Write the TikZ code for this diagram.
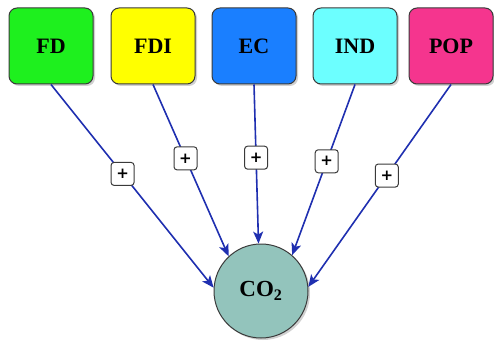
\documentclass[tikz,border=0pt]{standalone}
\usepackage{fontspec}
\setmainfont{Liberation Serif}
\newfontfamily\plusfont{DejaVu Sans}
\usetikzlibrary{shadows,arrows.meta}
\definecolor{cfd}{HTML}{1EF01E}
\definecolor{cfdi}{HTML}{FFFF00}
\definecolor{cec}{HTML}{1A7FFF}
\definecolor{cind}{HTML}{6CFFFF}
\definecolor{cpop}{HTML}{F5358E}
\definecolor{cco}{HTML}{93C4BC}
\definecolor{cline}{HTML}{1F2FB0}
\definecolor{cborder}{HTML}{3A3A3A}
\tikzset{
  varbox/.style={draw=cborder, line width=1pt, rounded corners=8pt, minimum width=84pt, minimum height=76pt,
    inner sep=0pt, font=\fontsize{22}{24}\selectfont\bfseries,
    drop shadow={shadow xshift=2pt, shadow yshift=-2pt, fill=gray!60, opacity=0.6}},
  plusbox/.style={draw=cborder, fill=white, line width=1pt, rounded corners=3pt, minimum size=23pt, inner sep=0pt,
    font=\plusfont\fontsize{15}{16}\selectfont\bfseries},
  link/.style={draw=cline, line width=1.6pt, -{Stealth[length=12pt,width=10pt,inset=3pt]}},
  cobox/.style={circle, draw=cborder, line width=1pt, fill=cco, minimum size=94pt, inner sep=0pt,
    font=\fontsize{23}{24}\selectfont\bfseries,
    drop shadow={shadow xshift=2pt, shadow yshift=-2pt, fill=gray!60, opacity=0.6}}
}
\begin{document}
\begin{tikzpicture}[x=1pt,y=-1pt]
\useasboundingbox (0,0) rectangle (494,347);
\node[varbox, fill=cfd] (fd) at (51,46) {FD};
\node[varbox, fill=cfdi] (fdi) at (153,46) {FDI};
\node[varbox, fill=cec] (ec) at (254,46) {EC};
\node[varbox, fill=cind] (ind) at (355,46) {IND};
\node[varbox, fill=cpop] (pop) at (451,46) {POP};
\node[cobox] (co) at (261,291) {CO\textsubscript{2}};
\draw[link] (fd.south) -- node[plusbox, pos=0.44] (p1) {+} (co.176);
\draw[link] (fdi.south) -- node[plusbox, pos=0.43] (p2) {+} (co.133);
\draw[link] (ec.south) -- node[plusbox, pos=0.46] (p3) {+} (co.93);
\draw[link] (ind.south) -- node[plusbox, pos=0.45] (p4) {+} (co.49);
\draw[link] (pop.south) -- node[plusbox, pos=0.45] (p5) {+} (co.5);
\end{tikzpicture}
\end{document}
